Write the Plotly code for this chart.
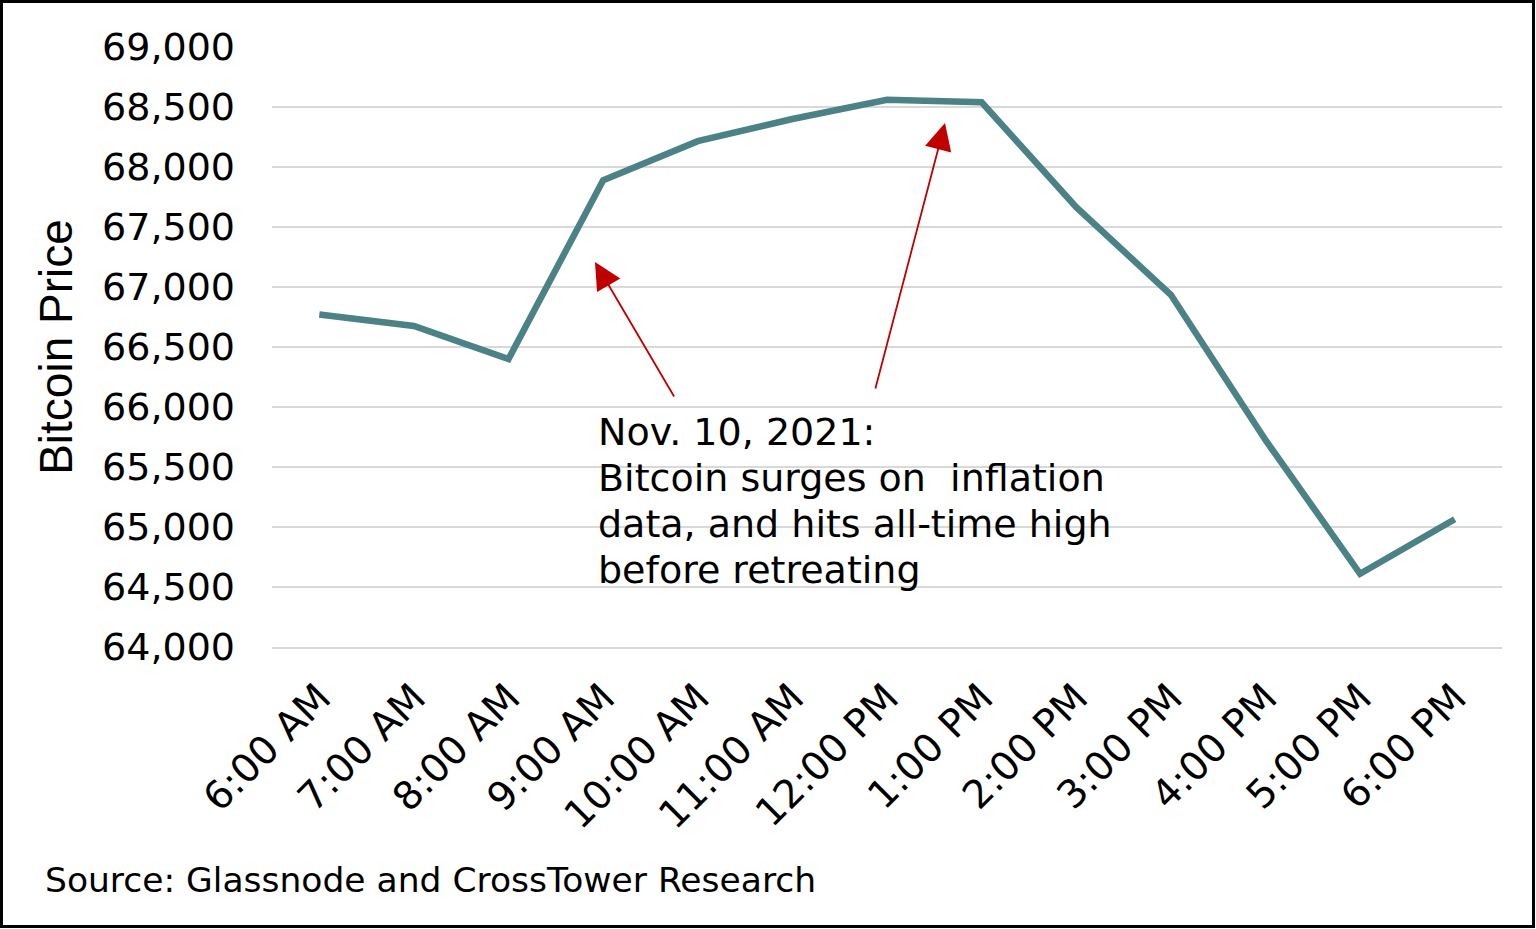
import plotly.graph_objects as go

hours = ["6:00 AM", "7:00 AM", "8:00 AM", "9:00 AM", "10:00 AM", "11:00 AM",
         "12:00 PM", "1:00 PM", "2:00 PM", "3:00 PM", "4:00 PM", "5:00 PM", "6:00 PM"]
price = [66770, 66675, 66400, 67890, 68215, 68400, 68560, 68540, 67665, 66935,
         65725, 64610, 65065]
y_ticks = [64000, 64500, 65000, 65500, 66000, 66500, 67000, 67500, 68000, 68500, 69000]
y_labels = [f"{v:,}" for v in y_ticks]
note_lines = ["Nov. 10, 2021:", "Bitcoin surges on &nbsp;inflation",
              "data, and hits all-time high", "before retreating"]

W, H = 1536, 929
L, R, T, B = 272, 1502, 47, 647
pw, ph = R - L, B - T

def px(x):
    return (x - L) / pw

def py(y):
    return (B - y) / ph

fig = go.Figure()
fig.add_trace(go.Scatter(
    x=hours, y=price, mode="lines",
    line=dict(color="#4a8285", width=6.5),
    hoverinfo="x+y",
))

annotations = []
for i, line in enumerate(note_lines):
    annotations.append(dict(
        xref="paper", yref="paper", x=px(596), y=py(432 + 46 * i), xanchor="left", yanchor="middle",
        align="left", showarrow=False, text=line,
        font=dict(family="DejaVu Sans", size=38, color="#000000")))

annotations += [
    dict(xref="paper", yref="paper", x=px(595), y=py(262), ax=80, ay=136,
         showarrow=True, arrowhead=2, arrowsize=3.0, arrowwidth=1.8, arrowcolor="#c00000",
         text="", standoff=0),
    dict(xref="paper", yref="paper", x=px(945), y=py(123), ax=-70, ay=267,
         showarrow=True, arrowhead=2, arrowsize=3.0, arrowwidth=1.8, arrowcolor="#c00000",
         text="", standoff=0),
    dict(xref="paper", yref="paper", x=px(43), y=py(880), xanchor="left", yanchor="middle",
         showarrow=False, text="Source: Glassnode and CrossTower Research",
         font=dict(family="DejaVu Sans", size=34.5, color="#000000")),
]

shapes = [
    dict(type="rect", xref="paper", yref="paper", x0=px(568), x1=px(1182), y0=py(400), y1=py(596),
         fillcolor="white", line=dict(width=0), layer="between"),
    dict(type="rect", xref="paper", yref="paper", x0=px(1.5), x1=px(1533.5), y0=py(1.5), y1=py(926.5),
         fillcolor="rgba(0,0,0,0)", line=dict(color="#000000", width=3), layer="above"),
]

fig.update_layout(
    width=W, height=H,
    margin=dict(l=L, r=W - R, t=T, b=H - B, autoexpand=False),
    paper_bgcolor="white", plot_bgcolor="white",
    showlegend=False,
    annotations=annotations, shapes=shapes,
    font=dict(family="DejaVu Sans", color="#000000"),
)
fig.update_xaxes(
    type="category", range=[-0.5, 12.5], tickangle=-45,
    showgrid=False, showline=True, linecolor="#d9d9d9", linewidth=2,
    ticks="", ticklabelstandoff=10,
    tickfont=dict(family="DejaVu Sans", size=39, color="#000000"),
    automargin=False,
)
fig.update_yaxes(
    range=[64000, 69000], tickvals=y_ticks, ticktext=y_labels,
    showgrid=True, gridcolor="#d9d9d9", gridwidth=2, zeroline=False, showline=False,
    ticks="", ticklabelstandoff=36,
    tickfont=dict(family="DejaVu Sans", size=38, color="#000000"),
    title=dict(text="Bitcoin Price", font=dict(family="Liberation Sans", size=46, color="#000000"), standoff=14),
    automargin=False,
)

fig.write_html("out.html")
